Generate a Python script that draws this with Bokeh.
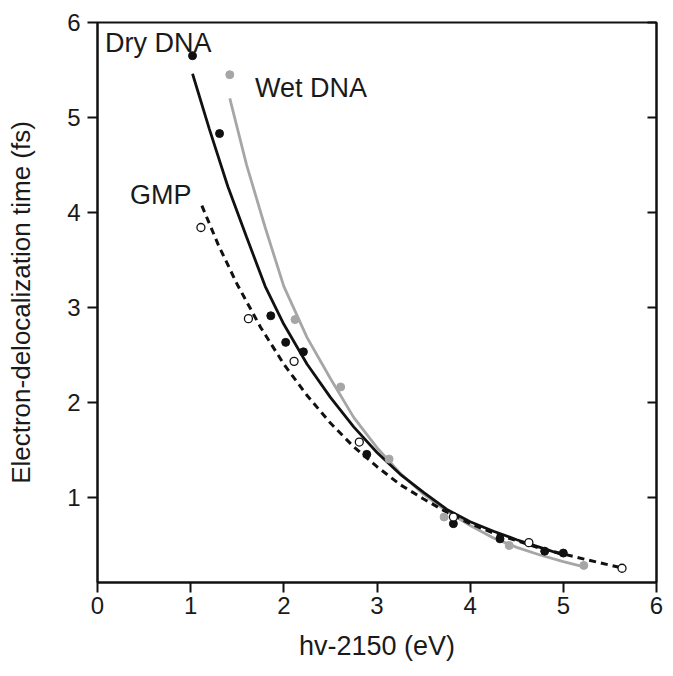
from bokeh.plotting import figure
from bokeh.models import Range1d, LinearAxis, FixedTicker, ColumnDataSource
from bokeh.core.properties import value
from bokeh.embed import file_html
from bokeh.resources import INLINE

# --- data ---
dry_x = [1.02, 1.31, 1.86, 2.02, 2.21, 2.89, 3.82, 4.32, 4.8, 5.0]
dry_y = [5.65, 4.83, 2.91, 2.63, 2.53, 1.45, 0.72, 0.56, 0.43, 0.41]

wet_x = [1.42, 2.12, 2.61, 3.13, 3.72, 4.42, 5.22]
wet_y = [5.45, 2.87, 2.16, 1.40, 0.79, 0.49, 0.28]

gmp_x = [1.11, 1.62, 2.11, 2.81, 3.82, 4.63, 5.63]
gmp_y = [3.84, 2.88, 2.43, 1.58, 0.79, 0.52, 0.25]

# fitted curves
dry_fit_x = [1.02, 1.2, 1.4, 1.6, 1.8, 2.0, 2.25, 2.5, 2.75, 3.0, 3.25, 3.5, 3.75, 4.0, 4.25, 4.5, 4.75, 5.0]
dry_fit_y = [5.46, 4.88, 4.27, 3.74, 3.22, 2.82, 2.40, 2.05, 1.74, 1.47, 1.24, 1.05, 0.87, 0.74, 0.64, 0.55, 0.47, 0.39]

wet_fit_x = [1.42, 1.6, 1.8, 2.0, 2.25, 2.5, 2.75, 3.0, 3.25, 3.5, 3.75, 4.0, 4.25, 4.5, 4.75, 5.0, 5.2]
wet_fit_y = [5.20, 4.50, 3.84, 3.22, 2.68, 2.25, 1.84, 1.52, 1.25, 1.03, 0.85, 0.70, 0.57, 0.47, 0.39, 0.32, 0.27]

gmp_fit_x = [1.12, 1.3, 1.5, 1.75, 2.0, 2.25, 2.5, 2.75, 3.0, 3.25, 3.5, 3.75, 4.0, 4.25, 4.5, 4.75, 5.0, 5.25, 5.6]
gmp_fit_y = [4.07, 3.65, 3.24, 2.79, 2.40, 2.07, 1.78, 1.53, 1.32, 1.13, 0.98, 0.84, 0.72, 0.62, 0.54, 0.46, 0.40, 0.34, 0.26]

x_ticks = [0, 1, 2, 3, 4, 5, 6]
y_ticks = [1, 2, 3, 4, 5, 6]

labels_text = ["Dry DNA", "Wet DNA", "GMP"]
labels_x = [0.08, 1.69, 0.35]
labels_y = [5.78, 5.31, 4.18]

FONT = "Liberation Sans"
TXT = "#1a1a1a"

p = figure(width=666, height=668, output_backend="svg", toolbar_location=None,
           x_range=Range1d(0, 6), y_range=Range1d(0.1, 6),
           min_border_left=97, min_border_right=10, min_border_top=22, min_border_bottom=86)
p.background_fill_color = "white"
p.border_fill_color = "white"
p.xgrid.visible = False
p.ygrid.visible = False
p.outline_line_color = "#111111"
p.outline_line_width = 2

for ax in (p.xaxis[0], p.yaxis[0]):
    ax.axis_line_width = 2
    ax.axis_line_color = "#111111"
    ax.major_tick_line_width = 2
    ax.major_tick_line_color = "#111111"
    ax.major_tick_in = 0
    ax.major_tick_out = 10
    ax.minor_tick_line_color = None
    ax.major_label_text_font = FONT
    ax.major_label_text_font_size = "24px"
    ax.major_label_text_color = TXT
    ax.axis_label_text_font = FONT
    ax.axis_label_text_font_style = "normal"
    ax.axis_label_text_color = TXT

p.xaxis[0].ticker = FixedTicker(ticks=x_ticks)
p.yaxis[0].ticker = FixedTicker(ticks=y_ticks)
p.xaxis[0].axis_label = "hv-2150 (eV)"
p.yaxis[0].axis_label = "Electron-delocalization time (fs)"
p.xaxis[0].axis_label_text_font_size = "27px"
p.yaxis[0].axis_label_text_font_size = "26px"
p.xaxis[0].major_label_standoff = 4
p.yaxis[0].major_label_standoff = 7
p.xaxis[0].axis_label_standoff = 14
p.yaxis[0].axis_label_standoff = 28

right = LinearAxis(ticker=FixedTicker(ticks=y_ticks))
right.axis_line_width = 2
right.axis_line_color = "#111111"
right.major_tick_line_width = 2
right.major_tick_line_color = "#111111"
right.major_tick_in = 9
right.major_tick_out = 0
right.minor_tick_line_color = None
right.major_label_text_color = None
right.major_label_text_font_size = "1px"
right.major_label_standoff = 0
p.add_layout(right, "right")

# curves
p.line(wet_fit_x, wet_fit_y, line_color="#a6a6a6", line_width=2.8)
p.line(dry_fit_x, dry_fit_y, line_color="#111111", line_width=2.8)
p.line(gmp_fit_x, gmp_fit_y, line_color="#111111", line_width=3, line_dash="7 5")

# points
p.scatter(wet_x, wet_y, size=8, fill_color="#a6a6a6", line_color="#a6a6a6")
p.scatter(dry_x, dry_y, size=8, fill_color="#111111", line_color="#111111")
p.scatter(gmp_x, gmp_y, size=8, fill_color="white", line_color="#111111", line_width=1.3)

src = ColumnDataSource(dict(x=labels_x, y=labels_y, t=labels_text))
p.text(x="x", y="y", text="t", source=src, text_font=value(FONT), text_font_size="27px",
       text_color=TXT, text_baseline="middle", text_align="left")

open("out.html", "w").write(file_html(p, INLINE))
